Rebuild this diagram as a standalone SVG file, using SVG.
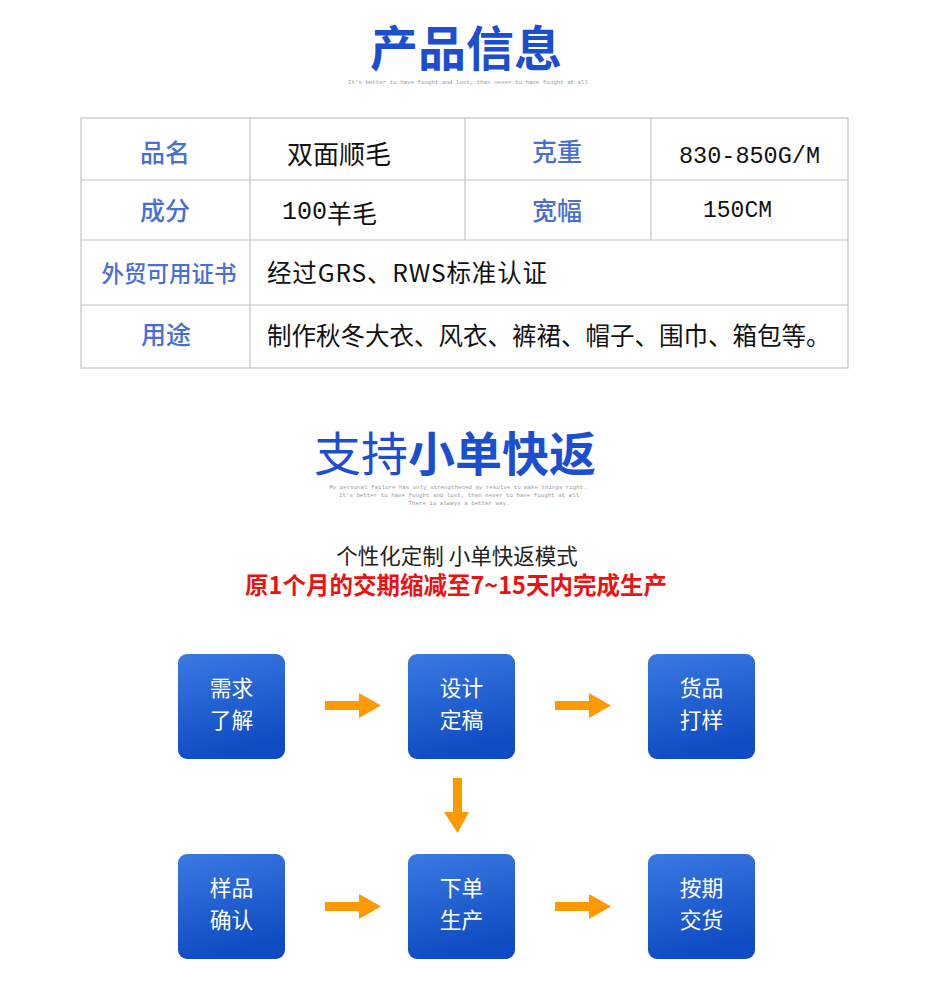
<svg xmlns="http://www.w3.org/2000/svg" width="930" height="1000" viewBox="0 0 930 1000">
<defs>
<linearGradient id="boxg" x1="0" y1="0" x2="0.25" y2="1">
<stop offset="0" stop-color="#3a7ae2"/>
<stop offset="1" stop-color="#0f4bc2"/>
</linearGradient>
<style>
.title{font-family:"Noto Sans CJK SC","Liberation Sans",sans-serif;font-weight:bold;fill:#1c4fcf;text-anchor:middle;dominant-baseline:central}
.sub{font-family:"Liberation Mono",monospace;font-size:5.8px;fill:#9a9a9a;text-anchor:middle}
.lab{font-family:"Noto Sans CJK SC","Liberation Sans",sans-serif;font-weight:500;fill:#4a6fd3;text-anchor:middle;dominant-baseline:central}
.val{font-family:"Liberation Mono","Noto Sans CJK SC",monospace;fill:#111;dominant-baseline:central}
.valc{font-family:"Noto Sans CJK SC","Liberation Sans",sans-serif;fill:#111;dominant-baseline:central}
.grid{stroke:#c4c4c4;stroke-width:1.2;fill:none}
.box{fill:url(#boxg)}
.bt{font-family:"Noto Sans CJK SC","Liberation Sans",sans-serif;font-size:21.8px;fill:#fff;text-anchor:middle;dominant-baseline:central}
.arr{fill:#ff9900}
</style>
</defs>
<rect width="930" height="1000" fill="#fff"/>

<g id="title1">
<text class="title" x="466" y="45" font-size="48">产品信息</text>
<text class="sub" x="468" y="84">It's better to have fought and lost, than never to have fought at all</text>
</g>

<g id="table">
<rect class="grid" x="81" y="118" width="767" height="250"/>
<line class="grid" x1="81" y1="180" x2="848" y2="180"/>
<line class="grid" x1="81" y1="240" x2="848" y2="240"/>
<line class="grid" x1="81" y1="305" x2="848" y2="305"/>
<line class="grid" x1="250" y1="118" x2="250" y2="368"/>
<line class="grid" x1="465" y1="118" x2="465" y2="240"/>
<line class="grid" x1="651" y1="118" x2="651" y2="240"/>
<text class="lab" x="165" y="151" font-size="25">品名</text>
<text class="valc" x="287" y="152" font-size="26">双面顺毛</text>
<text class="lab" x="557" y="150" font-size="25">克重</text>
<text class="val" x="679" y="156" font-size="23.5">830-850G/M</text>
<text class="lab" x="165" y="209" font-size="25">成分</text>
<text class="val" x="282" y="212" font-size="25">100<tspan font-family="Noto Sans CJK SC,sans-serif">羊毛</tspan></text>
<text class="lab" x="557" y="209" font-size="25">宽幅</text>
<text class="val" x="703" y="211" font-size="23">150CM</text>
<text class="lab" x="169" y="272" font-size="22.5">外贸可用证书</text>
<text class="valc" x="267" y="271" font-size="24.5" textLength="280" lengthAdjust="spacing">经过GRS、RWS标准认证</text>
<text class="lab" x="166" y="333" font-size="25">用途</text>
<text class="valc" x="267" y="334" font-size="24.5">制作秋冬大衣、风衣、裤裙、帽子、围巾、箱包等。</text>
</g>

<g id="title2">
<text class="title" x="455" y="450" font-size="47"><tspan font-weight="normal">支持</tspan>小单快返</text>
<text class="sub" x="458" y="489">My personal failure has only strengthened my resolve to make things right.</text>
<text class="sub" x="459" y="497">It's better to have fought and lost, than never to have fought at all</text>
<text class="sub" x="459" y="505">There is always a better way.</text>
</g>

<g id="intro">
<text x="457" y="554" font-family="Noto Sans CJK SC,sans-serif" font-size="21.5" fill="#222" text-anchor="middle" dominant-baseline="central">个性化定制 小单快返模式</text>
<text x="456" y="584" font-family="Noto Sans CJK SC,sans-serif" font-size="23.5" font-weight="bold" fill="#f01010" text-anchor="middle" dominant-baseline="central">原1个月的交期缩减至7~15天内完成生产</text>
</g>

<g id="n1"><rect class="box" x="178" y="654" width="107" height="105" rx="9"/><text class="bt"><tspan x="231.5" y="686">需求</tspan><tspan x="231.5" y="718">了解</tspan></text></g>
<g id="n2"><rect class="box" x="408" y="654" width="107" height="105" rx="9"/><text class="bt"><tspan x="461.5" y="686">设计</tspan><tspan x="461.5" y="718">定稿</tspan></text></g>
<g id="n3"><rect class="box" x="648" y="654" width="107" height="105" rx="9"/><text class="bt"><tspan x="701.5" y="686">货品</tspan><tspan x="701.5" y="718">打样</tspan></text></g>
<g id="n4"><rect class="box" x="178" y="854" width="107" height="105" rx="9"/><text class="bt"><tspan x="231.5" y="886">样品</tspan><tspan x="231.5" y="918">确认</tspan></text></g>
<g id="n5"><rect class="box" x="408" y="854" width="107" height="105" rx="9"/><text class="bt"><tspan x="461.5" y="886">下单</tspan><tspan x="461.5" y="918">生产</tspan></text></g>
<g id="n6"><rect class="box" x="648" y="854" width="107" height="105" rx="9"/><text class="bt"><tspan x="701.5" y="886">按期</tspan><tspan x="701.5" y="918">交货</tspan></text></g>

<g id="connectors">
<polygon class="arr" points="325,701 359,701 359,693 381,705.5 359,718 359,710 325,710"/>
<polygon class="arr" points="555,701 589,701 589,693 611,705.5 589,718 589,710 555,710"/>
<polygon class="arr" points="453,778 462,778 462,812 469,812 457.5,833 444,812 453,812"/>
<polygon class="arr" points="325,902 359,902 359,894 381,906.5 359,919 359,911 325,911"/>
<polygon class="arr" points="555,902 589,902 589,894 611,906.5 589,919 589,911 555,911"/>
</g>
</svg>
